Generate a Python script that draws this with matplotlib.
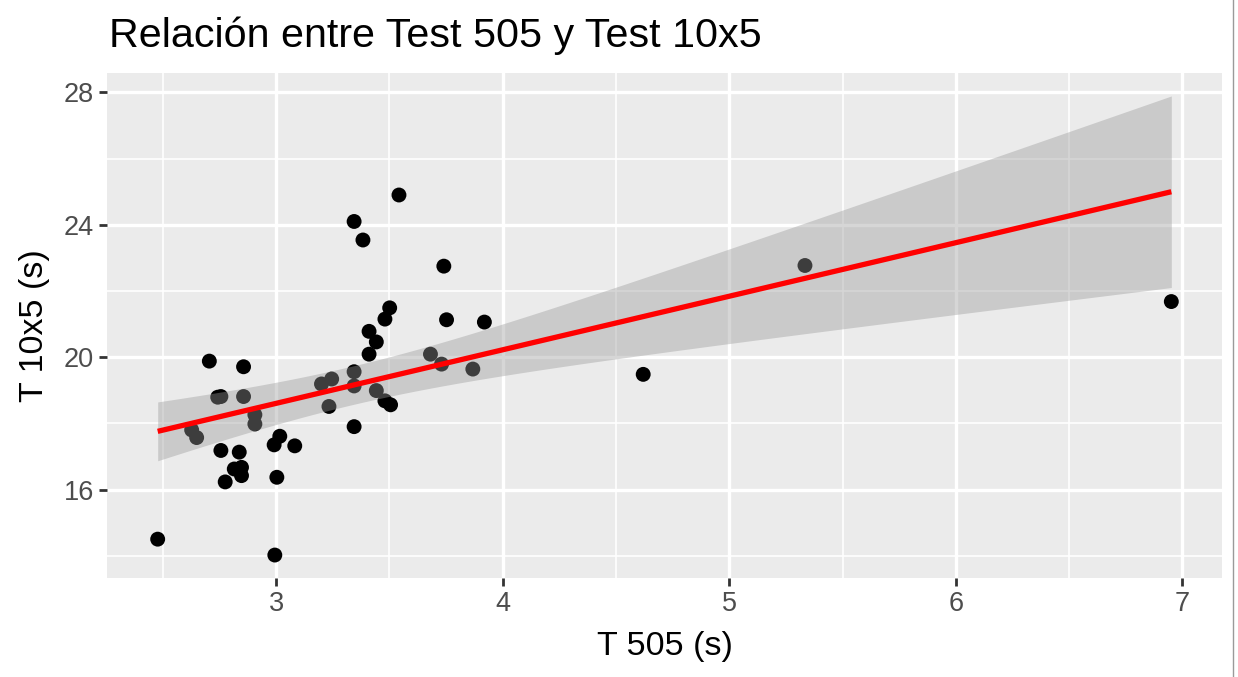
import numpy as np
import matplotlib
matplotlib.use("Agg")
import matplotlib.pyplot as plt
from matplotlib.ticker import MultipleLocator
from matplotlib.lines import Line2D

# ---- data ----
t505 = [2.705, 2.856, 2.742, 2.756, 2.856, 3.200, 3.245, 3.233, 2.906, 2.906,
        2.627, 2.649, 2.756, 2.837, 2.815, 2.847, 2.847, 2.775, 3.016, 2.991,
        3.082, 3.003, 2.477, 2.994, 3.542, 3.344, 3.383, 3.740, 3.501, 3.480,
        3.752, 3.919, 3.410, 3.442, 3.410, 3.681, 3.730, 3.868, 3.344, 3.344,
        3.442, 3.480, 3.505, 3.344, 5.334, 4.620, 6.951]
t10x5 = [19.88, 19.71, 18.79, 18.81, 18.81, 19.19, 19.34, 18.51, 18.26, 17.98,
         17.80, 17.57, 17.18, 17.13, 16.62, 16.67, 16.42, 16.23, 17.61, 17.35,
         17.32, 16.37, 14.50, 14.02, 24.90, 24.10, 23.54, 22.75, 21.49, 21.15,
         21.13, 21.06, 20.78, 20.46, 20.09, 20.09, 19.79, 19.64, 19.56, 19.13,
         18.99, 18.68, 18.56, 17.90, 22.77, 19.48, 21.68]
x_ticks = [3, 4, 5, 6, 7]
y_ticks = [16, 20, 24, 28]
title = "Relación entre Test 505 y Test 10x5"
xlabel = "T 505 (s)"
ylabel = "T 10x5 (s)"

plt.rcParams['font.family'] = ['Liberation Sans', 'DejaVu Sans']

x = np.array(t505)
y = np.array(t10x5)
n = len(x)

# linear model with 95% confidence band (like geom_smooth(method = "lm"))
b1, b0 = np.polyfit(x, y, 1)
resid = y - (b0 + b1 * x)
s = np.sqrt(np.sum(resid ** 2) / (n - 2))
xbar = x.mean()
sxx = np.sum((x - xbar) ** 2)
tcrit = 2.014  # t(0.975, df = n - 2)
xg = np.linspace(x.min(), x.max(), 80)
yg = b0 + b1 * xg
se = s * np.sqrt(1.0 / n + (xg - xbar) ** 2 / sxx)
lo = yg - tcrit * se
hi = yg + tcrit * se

W, H = 1238, 677
fig = plt.figure(figsize=(W / 100, H / 100), dpi=100)
ax = fig.add_axes([107 / W, 1 - 578 / H, (1222 - 107) / W, (578 - 73) / H])
ax.set_facecolor('#EBEBEB')
for sp in ax.spines.values():
    sp.set_visible(False)

# limits with ggplot-style 5% expansion
xmin, xmax = x.min(), x.max()
ymin, ymax = min(y.min(), lo.min()), max(y.max(), hi.max())
dx, dy = xmax - xmin, ymax - ymin
ax.set_xlim(xmin - 0.05 * dx, xmax + 0.05 * dx)
ax.set_ylim(ymin - 0.05 * dy, ymax + 0.05 * dy)

ax.set_xticks(x_ticks)
ax.set_yticks(y_ticks)
ax.xaxis.set_minor_locator(MultipleLocator(0.5))
ax.yaxis.set_minor_locator(MultipleLocator(2))
ax.grid(which='major', color='white', linewidth=2.4, zorder=0)
ax.grid(which='minor', color='white', linewidth=1.2, zorder=0)
ax.set_axisbelow(True)
ax.tick_params(which='minor', length=0)
ax.tick_params(which='major', length=5.5, width=2, color='#333333',
               labelsize=19.5, labelcolor='#4D4D4D', pad=4)

ax.scatter(x, y, s=115, color='black', edgecolors='none', zorder=2)
ax.fill_between(xg, lo, hi, color='#999999', alpha=0.4, linewidth=0, zorder=3)
ax.plot(xg, yg, color='red', linewidth=3.8, zorder=4, solid_capstyle='butt')

ax.set_xlabel(xlabel, fontsize=24.5, color='black', labelpad=10)
ax.set_ylabel(ylabel, fontsize=24.5, color='black', labelpad=10)

fig.text(109 / W, 1 - 47 / H, title, fontsize=29.7, color='black',
         ha='left', va='baseline')

# thin border line at the right edge of the screenshot
fig.add_artist(Line2D([1233 / W, 1233 / W], [0, 1], transform=fig.transFigure,
                      color='#9A9A9A', linewidth=1))

fig.savefig('out.png', dpi=100)
